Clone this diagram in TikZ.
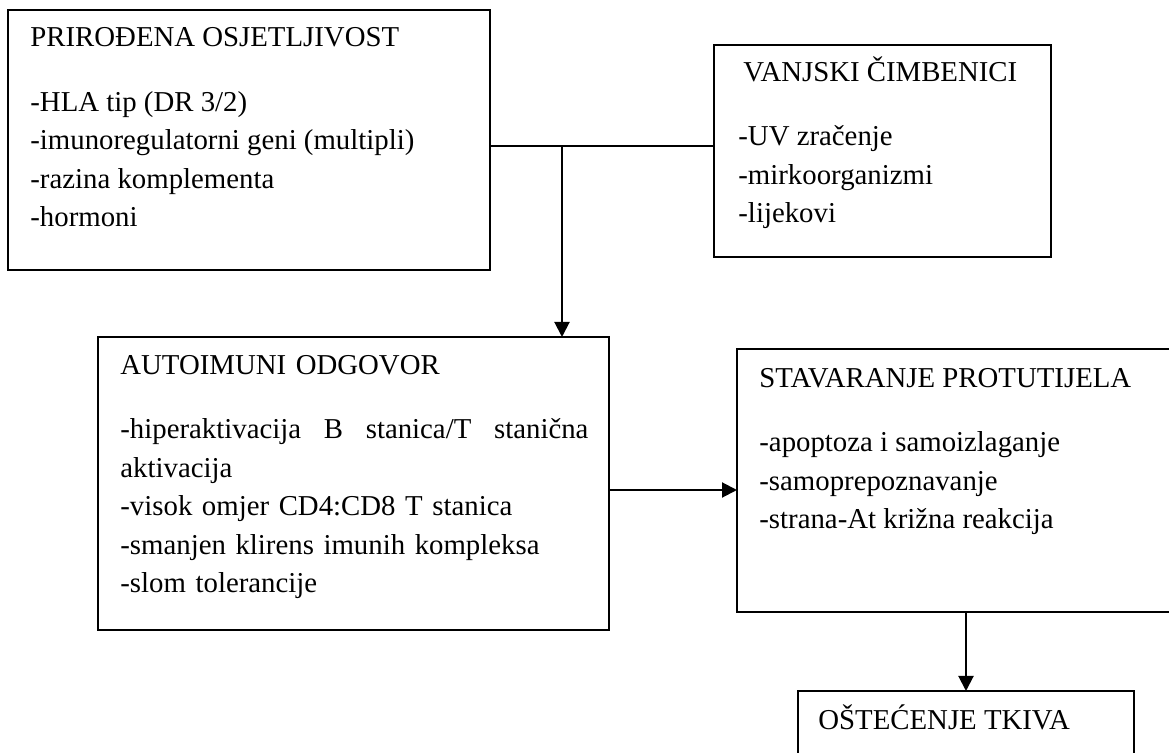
\documentclass[tikz,border=0pt]{standalone}
\usepackage{fontspec}
\setmainfont{Liberation Serif}
\usetikzlibrary{arrows.meta,positioning,calc}
\tikzset{
  box/.style={draw, line width=0.9pt, inner sep=0pt, outer sep=0pt, anchor=north west},
  txt/.style={align=left, inner sep=0pt, anchor=north west, font=\fontsize{14.4}{19.25}\selectfont},
  arr/.style={line width=1pt, -{Triangle[length=7.5pt,width=7.5pt]}}
}

\begin{document}
\begin{tikzpicture}[x=0.5pt, y=-0.5pt]
\useasboundingbox (0,0) rectangle (1169,753);

% okviri
\node [box, minimum width=241pt, minimum height=130pt] (prirodjena) at (8,10) {};
\node [box, minimum width=168.5pt, minimum height=106pt] (vanjski) at (714,45) {};
\node [box, minimum width=255.5pt, minimum height=146.5pt] (autoimuni) at (98,337) {};
\node [box, minimum width=217.5pt, minimum height=131.5pt] (stvaranje) at (737,349) {};
\node [box, minimum width=168pt, minimum height=34.5pt] (ostecenje) at (798,691) {};

% tekst u okvirima
\node [txt] (prirodjenaT) at (30,19.5) {\strut PRIROĐENA OSJETLJIVOST\\[13pt]
  -HLA tip (DR 3/2)\\
  -imunoregulatorni geni (multipli)\\
  -razina komplementa\\
  -hormoni};
\node [txt] (vanjskiT) at (738,54) {\strut\hspace*{2.5pt}VANJSKI ČIMBENICI\\[13pt]
  -UV zračenje\\
  -mirkoorganizmi\\
  -lijekovi};
\node [txt, text width=234pt] (autoimuniT) at (120,347) {\strut AUTOIMUNI ODGOVOR\\[13pt]
  -hiperaktivacija\hfill B\hfill stanica/T\hfill stanična\\
  aktivacija\\
  -visok omjer CD4:CD8 T stanica\\
  -smanjen klirens imunih kompleksa\\
  -slom tolerancije};
\node [txt] (stvaranjeT) at (759,360) {\strut STAVARANJE PROTUTIJELA\\[13pt]
  -apoptoza i samoizlaganje\\
  -samoprepoznavanje\\
  -strana-At križna reakcija};
\node [txt] (ostecenjeT) at (818,702) {\strut OŠTEĆENJE TKIVA};

% veze
\coordinate (j) at (562,146);
\coordinate (k) at (673,490);
\draw [line width=1pt] (prirodjena.east |- j) -- (vanjski.west |- j);
\draw [arr] (j) -- (autoimuni.north -| j);
\draw [arr] (autoimuni.east |- k) -- (stvaranje.west |- k);
\draw [arr] (stvaranje.south -| ostecenje.north) -- (ostecenje.north);
\end{tikzpicture}
\end{document}
